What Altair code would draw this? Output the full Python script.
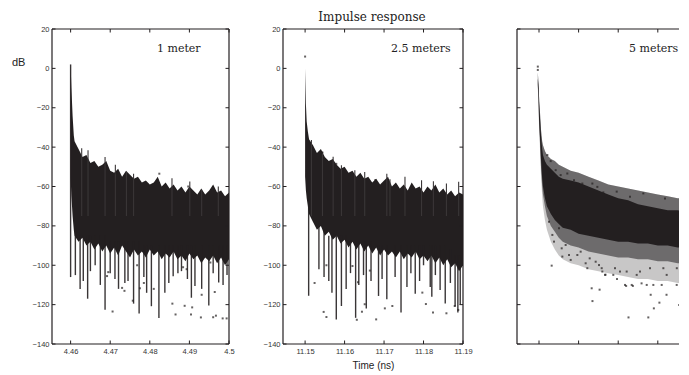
import altair as alt
import pandas as pd

INK = "#231f20"
H = 315
W1, W2, W3 = 177, 180, 162

# ---------------- Panel 1 : 1 meter ----------------
t1 = [4.4600, 4.4602, 4.4605, 4.4608, 4.4610,
      4.462, 4.463, 4.464, 4.465, 4.466, 4.467, 4.468, 4.469, 4.470, 4.471,
      4.472, 4.473, 4.474, 4.475, 4.476, 4.477, 4.478, 4.479, 4.480, 4.481,
      4.482, 4.483, 4.484, 4.485, 4.486, 4.487, 4.488, 4.489, 4.490, 4.491,
      4.492, 4.493, 4.494, 4.495, 4.496, 4.497, 4.498, 4.499, 4.500]
top1 = [2, -10, -24, -34, -37,
        -41, -45, -44, -48, -47, -50, -49, -47, -52, -53,
        -51, -55, -52, -54, -56, -55, -58, -57, -59, -58,
        -55, -60, -58, -61, -59, -62, -60, -63, -60, -62,
        -64, -61, -64, -62, -59, -63, -62, -65, -63]
low1 = [-55, -65, -75, -82, -85,
        -88, -86, -90, -88, -92, -89, -93, -90, -94, -91,
        -95, -90, -93, -96, -92, -95, -93, -96, -92, -95,
        -93, -97, -94, -96, -93, -97, -95, -98, -94, -97,
        -95, -99, -96, -98, -95, -99, -96, -100, -97]
up_t1 = [4.4628, 4.4644, 4.4687, 4.4713, 4.4741, 4.4759, 4.4856, 4.4901, 4.4931, 4.4973]
up_top1 = [-40.6, -41.6, -45, -49, -52.6, -53.5, -55.8, -57.5, -61.7, -60]
spike_t1 = [4.4600, 4.4612, 4.4624, 4.4632, 4.4643, 4.4650, 4.4662, 4.4675, 4.4687,
            4.4700, 4.4712, 4.4721, 4.4737, 4.4745, 4.4759, 4.4773, 4.4785, 4.4792,
            4.4804, 4.4823, 4.4838, 4.4848, 4.4859, 4.4871, 4.4880, 4.4895, 4.4905,
            4.4914, 4.4931, 4.4949, 4.4960, 4.4974, 4.4985, 4.4995]
spike_top1 = [2, -80, -85, -85, -85, -85, -85, -85, -85,
              -88, -88, -88, -88, -88, -88, -88, -90, -90,
              -90, -90, -90, -90, -90, -90, -90, -90, -90,
              -90, -90, -90, -90, -90, -90, -90]
spike_bot1 = [-106, -105, -112, -108, -117, -103, -100, -110, -122.6,
              -104, -107, -112, -109, -108, -119.5, -124.5, -106, -114,
              -120.8, -126.8, -114, -109, -105.6, -104, -103, -107, -116.5,
              -110.6, -112, -120.5, -104, -108.8, -110, -105]
dot_t1 = [4.4716, 4.4824, 4.4897, 4.4695, 4.4692, 4.4706, 4.4730, 4.4736, 4.4768,
          4.4757, 4.4775, 4.4785, 4.4810, 4.4857, 4.4865, 4.4888, 4.4907, 4.4904,
          4.4929, 4.4960, 4.4967, 4.4984, 4.4994, 4.4931, 4.4964, 4.4884, 4.4893,
          4.4953]
dot_v1 = [-53.3, -53.5, -60, -103.5, -105.5, -123.5, -111.5, -113, -100,
          -118, -111.7, -109, -112, -119.5, -125, -120.6, -121.4, -125,
          -126.5, -126.4, -125.6, -127, -127, -115, -113.6, -101, -102,
          -98.6]
xticks1 = [4.46, 4.47, 4.48, 4.49, 4.50]

# ---------------- Panel 2 : 2.5 meters ----------------
t2 = [11.1500, 11.1502, 11.1504, 11.1507, 11.1510,
      11.152, 11.153, 11.154, 11.155, 11.156, 11.157, 11.158, 11.159, 11.160, 11.161,
      11.162, 11.163, 11.164, 11.165, 11.166, 11.167, 11.168, 11.169, 11.170, 11.171,
      11.172, 11.173, 11.174, 11.175, 11.176, 11.177, 11.178, 11.179, 11.180, 11.181,
      11.182, 11.183, 11.184, 11.185, 11.186, 11.187, 11.188, 11.189, 11.190]
top2 = [0, -18, -27, -32, -36,
        -39, -43, -41, -45, -47, -46, -49, -51, -50, -53,
        -52, -55, -53, -56, -55, -58, -56, -59, -57, -55,
        -60, -58, -61, -59, -62, -58, -61, -60, -63, -60,
        -62, -59, -63, -61, -64, -62, -65, -63, -64]
low2 = [-55, -62, -66, -70, -74,
        -78, -82, -80, -85, -83, -87, -85, -89, -87, -91,
        -88, -92, -89, -93, -90, -94, -91, -95, -92, -95,
        -93, -96, -93, -97, -94, -96, -93, -97, -95, -98,
        -95, -99, -96, -100, -97, -101, -99, -103, -100]
up_t2 = [11.1516, 11.1544, 11.1571, 11.1592, 11.1626, 11.1651, 11.1707, 11.1715,
         11.1753, 11.1795, 11.1825, 11.1858, 11.1889]
up_top2 = [-36.4, -42.3, -44.9, -49.2, -51.7, -52.6, -53.5, -56.3,
           -55, -56.8, -57.3, -58.5, -57.6]
spike_t2 = [11.1509, 11.1535, 11.1548, 11.1560, 11.1568, 11.1579, 11.1592, 11.1604,
            11.1615, 11.1628, 11.1636, 11.1648, 11.1655, 11.1667, 11.1686, 11.1695,
            11.1707, 11.1728, 11.1743, 11.1758, 11.1768, 11.1779, 11.1790, 11.1800,
            11.1817, 11.1821, 11.1830, 11.1842, 11.1855, 11.1868, 11.1880, 11.1887,
            11.1893]
spike_top2 = [-70, -80, -82, -85, -85, -85, -85, -85,
              -88, -88, -88, -88, -88, -88, -90, -90,
              -90, -90, -90, -90, -90, -90, -90, -90,
              -90, -90, -90, -90, -90, -92, -95, -95,
              -95]
spike_bot2 = [-115.5, -102, -106, -108, -114, -127.5, -120.7, -112,
              -104, -126.7, -110, -105, -122, -108, -115.6, -107,
              -117.3, -106, -124, -111, -104, -114.5, -108, -100,
              -111, -116, -105, -112.6, -119.4, -109, -121, -124,
              -120]
dot_t2 = [11.1500, 11.1544, 11.1579, 11.1678, 11.1524, 11.1547, 11.1554, 11.1554,
          11.1631, 11.1644, 11.1651, 11.1634, 11.1680, 11.1702, 11.1721, 11.1664,
          11.1620, 11.1797, 11.1806, 11.1824, 11.1858, 11.1879, 11.1888]
dot_v2 = [6, -42.8, -48.5, -56.7, -109, -123.7, -126.3, -100,
          -127.7, -123.6, -119.8, -108.6, -127.5, -121.9, -120.7, -102.7,
          -100.4, -113.9, -119.7, -124, -124.4, -120.7, -122.7]
xticks2 = [11.15, 11.16, 11.17, 11.18, 11.19]

# ---------------- Panel 3 : 5 meters ----------------
t3 = [22.2997, 22.2999, 22.3000, 22.3003, 22.3005, 22.3008, 22.3010, 22.3015,
      22.3020, 22.3030, 22.3040, 22.3050, 22.3060, 22.3080, 22.3100, 22.3125,
      22.3150, 22.3175, 22.3200, 22.3225, 22.3250, 22.3275, 22.3300, 22.3325,
      22.3350, 22.3374]
fringe_top3 = [-2, -8, -14, -24, -31, -37, -39, -42, -44, -46, -47, -49, -50,
               -52, -53, -55, -57, -59, -60, -61, -62, -63, -64, -65, -66, -66]
core_top3 = [-5, -10, -17, -27, -34, -41, -44, -47, -49, -51, -53, -55, -56,
             -57, -58, -60, -62, -64, -66, -67, -69, -70, -71, -72, -72, -73]
core_bot3 = [-8, -16, -25, -37, -46, -56, -60, -66, -70, -74, -77, -79, -81,
             -82, -84, -85, -86, -87, -88, -88, -89, -89, -90, -90, -91, -91]
dense_bot3 = [-9, -18, -27, -40, -50, -60, -64, -70, -75, -80, -83, -86, -88,
              -90, -91, -93, -94, -95, -96, -96, -97, -97, -98, -98, -99, -99]
sparse_bot3 = [-10, -20, -29, -43, -54, -65, -70, -77, -82, -88, -92, -95, -97,
               -99, -100, -102, -103, -104, -105, -106, -107, -107, -108, -108, -109, -109]
dot_t3 = [22.2997, 22.2997,
          # upper speckles
          22.3021, 22.30295, 22.30421, 22.30547, 22.30715, 22.30884, 22.31094, 22.31347,
          22.31473, 22.31624, 22.31962, 22.32298, 22.32634, 22.33182, 22.33604,
          # lower speckles
          22.30253, 22.30337, 22.30379, 22.30505, 22.30573, 22.30589, 22.30673, 22.30758,
          22.30800, 22.30968, 22.31052, 22.31178, 22.31220, 22.31280, 22.31431, 22.31515,
          22.31583, 22.31599, 22.31667, 22.31876, 22.31919, 22.32045, 22.32172, 22.32214,
          22.32341, 22.32467, 22.32551, 22.32720, 22.32803, 22.32887, 22.33098, 22.33140,
          22.33224, 22.33477, 22.33480, 22.33644, 22.33712,
          # outliers
          22.3032, 22.3133, 22.3153, 22.3135, 22.3226, 22.3276, 22.3304, 22.3290,
          22.3282, 22.3322, 22.3368, 22.3220, 22.3237, 22.3259, 22.3197, 22.3168,
          22.3354]
dot_v3 = [0.9, -0.8,
          -44, -47.1, -51.7, -54.2, -53.4, -56.8, -58.5, -58.5,
          -60.2, -63, -62.6, -65.2, -63.5, -66.1, -67.4,
          -77.9, -84.6, -88, -81.2, -91.4, -95.6, -89.7, -94.8,
          -97.3, -94.8, -93.1, -99, -101.5, -96.5, -98.2, -99.9,
          -101.5, -103.2, -104.9, -104.9, -101.5, -103.2, -110, -103.2,
          -110, -104.9, -103.2, -110, -101.5, -110, -110, -101.5,
          -104.9, -110, -101.5, -111.7, -108.3,
          -100.2, -111.7, -112.4, -118.2, -126.5, -126.5, -119, -121.9,
          -115, -115, -120.7, -110.5, -110.5, -109.2, -107, -104.8,
          -120.2]
xticks3 = [22.30, 22.31, 22.32, 22.33]

yticks = [-140, -120, -100, -80, -60, -40, -20, 0, 20]
TL = 3.5


def one():
    return pd.DataFrame({"k": [0]})


def make_panel(xdom, w, xticks, label, label_x, ylabel_color, xlabel_color,
               xtitle=None, right_edge=True):
    xs = alt.Scale(domain=xdom, nice=False, zero=False)
    ys = alt.Scale(domain=[-140, 20], nice=False, zero=False)
    xaxis_kw = dict(values=xticks, format=".2~f", ticks=False, tickSize=0, domain=False,
                    grid=False, labelFont="Liberation Sans", labelFontSize=7.5,
                    labelColor=xlabel_color, labelPadding=3, labelFlush=False)
    if xtitle:
        xaxis_kw.update(title=xtitle, titleFont="Liberation Sans", titleFontSize=10,
                        titleFontWeight="normal", titleColor="#222", titlePadding=6)
    else:
        xaxis_kw.update(title=None)
    xaxis = alt.Axis(**xaxis_kw)
    yaxis = alt.Axis(values=yticks, ticks=False, tickSize=0, domain=False, grid=False,
                     labelFont="Liberation Sans", labelFontSize=7.5, labelColor=ylabel_color,
                     labelPadding=3, title=None)

    def X(f):
        return alt.X(f, type="quantitative", scale=xs, axis=xaxis)

    def Y(f):
        return alt.Y(f, type="quantitative", scale=ys, axis=yaxis)

    layers = []
    tick_x = pd.DataFrame({"v": xticks})
    tick_y = pd.DataFrame({"v": yticks})
    layers.append(alt.Chart(tick_y).mark_rule(color=INK, strokeWidth=1).encode(
        y=Y("v"), x=alt.value(0), x2=alt.value(TL)))
    if right_edge:
        layers.append(alt.Chart(tick_y).mark_rule(color=INK, strokeWidth=1).encode(
            y=Y("v"), x=alt.value(w - TL), x2=alt.value(w)))
    layers.append(alt.Chart(tick_x).mark_rule(color=INK, strokeWidth=1).encode(
        x=X("v"), y=alt.value(0), y2=alt.value(TL)))
    layers.append(alt.Chart(tick_x).mark_rule(color=INK, strokeWidth=1).encode(
        x=X("v"), y=alt.value(H - TL), y2=alt.value(H)))
    layers.append(alt.Chart(one()).mark_rule(color=INK, strokeWidth=1.2).encode(
        x=alt.value(0), y=alt.value(0), y2=alt.value(H)))
    layers.append(alt.Chart(one()).mark_rule(color=INK, strokeWidth=1.2).encode(
        x=alt.value(0), x2=alt.value(w), y=alt.value(0)))
    layers.append(alt.Chart(one()).mark_rule(color=INK, strokeWidth=1.2).encode(
        x=alt.value(0), x2=alt.value(w), y=alt.value(H)))
    if right_edge:
        layers.append(alt.Chart(one()).mark_rule(color=INK, strokeWidth=1.2).encode(
            x=alt.value(w), y=alt.value(0), y2=alt.value(H)))
    layers.append(alt.Chart(pd.DataFrame({"s": [label]})).mark_text(
        font="DejaVu Serif", fontSize=11, align="left", baseline="middle", color="#222").encode(
        x=alt.value(label_x), y=alt.value(20), text="s:N"))
    return layers, X, Y


def signal_layers(X, Y, t, top, low, up_t, up_top, sp_t, sp_top, sp_bot, d_t, d_v):
    d = pd.DataFrame({"t": t, "top": top, "low": low})
    up = pd.DataFrame({"t": up_t, "a": up_top})
    s = pd.DataFrame({"t": sp_t, "a": sp_top, "b": sp_bot})
    dots = pd.DataFrame({"t": d_t, "v": d_v})
    return [
        alt.Chart(d).mark_area(color=INK).encode(x=X("t"), y=Y("top"), y2="low:Q"),
        alt.Chart(up).mark_rule(color="#3a3637", strokeWidth=1.1).encode(
            x=X("t"), y=Y("a"), y2=alt.datum(-75)),
        alt.Chart(s).mark_rule(color=INK, strokeWidth=1.4, opacity=0.9).encode(
            x=X("t"), y=Y("b"), y2="a:Q"),
        alt.Chart(dots).mark_square(color=INK, size=4).encode(x=X("t"), y=Y("v")),
    ]


# Panel 1
layers1, X1, Y1 = make_panel([4.4553, 4.5], W1, xticks1, "1 meter", 105, "#333", "#333")
layers1 = signal_layers(X1, Y1, t1, top1, low1, up_t1, up_top1, spike_t1, spike_top1,
                        spike_bot1, dot_t1, dot_v1) + [
    alt.Chart(pd.DataFrame({"s": ["dB"]})).mark_text(
        font="Liberation Sans", fontSize=11, align="left", baseline="middle", color="#222").encode(
        x=alt.value(-40), y=alt.value(34), text="s:N"),
] + layers1
p1 = alt.layer(*layers1).properties(width=W1, height=H)

# Panel 2
layers2, X2, Y2 = make_panel([11.1444, 11.19], W2, xticks2, "2.5 meters", 108, "#333", "#333",
                             xtitle="Time (ns)")
layers2 = signal_layers(X2, Y2, t2, top2, low2, up_t2, up_top2, spike_t2, spike_top2,
                        spike_bot2, dot_t2, dot_v2) + [
    alt.Chart(pd.DataFrame({"s": ["Impulse response"]})).mark_text(
        font="DejaVu Serif", fontSize=12, align="center", baseline="middle", color="#222").encode(
        x=alt.value(89), y=alt.value(-12), text="s:N"),
] + layers2
p2 = alt.layer(*layers2).properties(width=W2, height=H)

# Panel 3
layers3, X3, Y3 = make_panel([22.294444, 22.33535], W3, xticks3, "5 meters", 112, "white", "white",
                             right_edge=False)
d3 = pd.DataFrame({"t": t3, "ft": fringe_top3, "ct": core_top3, "cb": core_bot3,
                   "db": dense_bot3, "sb": sparse_bot3})
p3dots = pd.DataFrame({"t": dot_t3, "v": dot_v3})
layers3 = [
    alt.Chart(d3).mark_area(color=INK, opacity=0.25, clip=True).encode(
        x=X3("t"), y=Y3("ft"), y2="sb:Q"),
    alt.Chart(d3).mark_area(color=INK, opacity=0.55, clip=True).encode(
        x=X3("t"), y=Y3("ft"), y2="db:Q"),
    alt.Chart(d3).mark_area(color=INK, clip=True).encode(x=X3("t"), y=Y3("ct"), y2="cb:Q"),
    alt.Chart(p3dots).mark_square(color=INK, size=4, clip=True).encode(x=X3("t"), y=Y3("v")),
] + layers3
p3 = alt.layer(*layers3).properties(width=W3, height=H)

chart = alt.hconcat(p1, p2, p3, spacing=54, bounds="flush").properties(
    padding={"left": 4, "top": 3, "right": 0, "bottom": 0},
).configure_view(stroke=None)

chart.save("out.html", embed_options={"renderer": "svg", "actions": False})
